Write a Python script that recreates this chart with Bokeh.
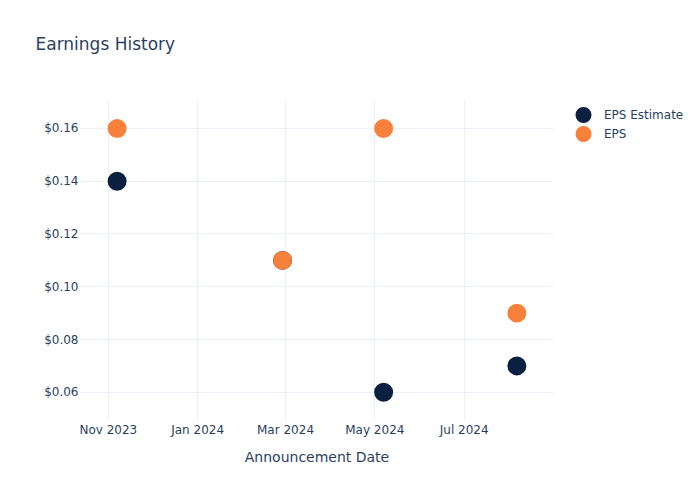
from datetime import datetime
from bokeh.plotting import figure
from bokeh.models import (ColumnDataSource, FixedTicker, NumeralTickFormatter,
                          DatetimeTickFormatter, Legend, LegendItem, Range1d, Title)
from bokeh.embed import file_html
from bokeh.resources import INLINE

# ---- data ----
announce_dates = ["2023-11-07", "2024-02-28", "2024-05-07", "2024-08-06"]
eps_estimate = [0.14, 0.11, 0.06, 0.07]
eps_actual = [0.16, 0.11, 0.16, 0.09]
x_tick_labels = ["2023-11-01", "2024-01-01", "2024-03-01", "2024-05-01", "2024-07-01"]
y_ticks = [0.06, 0.08, 0.10, 0.12, 0.14, 0.16]

dates = [datetime.fromisoformat(d) for d in announce_dates]
src = ColumnDataSource(dict(date=dates, est=eps_estimate, eps=eps_actual))

def ms(d):
    return datetime.fromisoformat(d).timestamp() * 1000

TXT = "#2a3f5f"
GRID = "#ebf0f8"
FONT = "DejaVu Sans"
NAVY = "#0b1f41"
ORANGE = "#f7803a"

p = figure(frame_width=473, frame_height=320, x_axis_type="datetime",
           output_backend="svg", toolbar_location=None,
           min_border_left=80, min_border_right=147,
           min_border_top=100, min_border_bottom=80,
           x_range=Range1d(ms("2023-10-13"), ms("2024-08-31")),
           y_range=Range1d(0.0493, 0.1706))

p.title.text = "Earnings History"
p.title.text_font = FONT
p.title.text_font_size = "17px"
p.title.text_font_style = "normal"
p.title.text_color = TXT
p.title.offset = -45
p.title.vertical_align = "top"
p.title.standoff = 67

spacer = Title(text=" ", standoff=7, text_font_size="2px")
p.add_layout(spacer, "above")

p.outline_line_color = None
p.background_fill_color = "white"
p.border_fill_color = "white"

p.xgrid.grid_line_color = GRID
p.ygrid.grid_line_color = GRID
p.xaxis.ticker = FixedTicker(ticks=[ms(d) for d in x_tick_labels])
p.xaxis.formatter = DatetimeTickFormatter(
    years="%b %Y", months="%b %Y", days="%b %Y", hours="%b %Y",
    minutes="%b %Y", seconds="%b %Y", milliseconds="%b %Y",
    minsec="%b %Y", hourmin="%b %Y")
p.yaxis.ticker = FixedTicker(ticks=y_ticks)
p.yaxis.formatter = NumeralTickFormatter(format="$0.00")

for ax in (p.xaxis, p.yaxis):
    ax.axis_line_color = None
    ax.major_tick_line_color = None
    ax.minor_tick_line_color = None
    ax.major_label_text_color = TXT
    ax.major_label_text_font = FONT
    ax.major_label_text_font_size = "12px"
    ax.major_label_standoff = -4

p.xaxis.axis_label = "Announcement Date"
p.xaxis.axis_label_text_font = FONT
p.xaxis.axis_label_text_font_size = "14px"
p.xaxis.axis_label_text_font_style = "normal"
p.xaxis.axis_label_text_color = TXT
p.xaxis.axis_label_standoff = 9

# marker = fill (10.6 px) + same-colour stroke (8.4 px) -> ~19 px dots,
# and ~16 px dots in the legend
r1 = p.scatter("date", "est", source=src, size=10.6, fill_color=NAVY,
               line_color=NAVY, line_width=8.4)
r2 = p.scatter("date", "eps", source=src, size=10.6, fill_color=ORANGE,
               line_color=ORANGE, line_width=8.4)

legend = Legend(items=[LegendItem(label="EPS Estimate", renderers=[r1]),
                       LegendItem(label="EPS", renderers=[r2])],
                location=(10, 277), border_line_color=None,
                background_fill_alpha=0, label_text_font=FONT,
                label_text_font_size="12px", label_text_color=TXT,
                glyph_width=40, glyph_height=19, label_height=19,
                spacing=0, label_standoff=1, margin=0, padding=0)
p.add_layout(legend, "right")

open("out.html", "w").write(file_html(p, INLINE))
